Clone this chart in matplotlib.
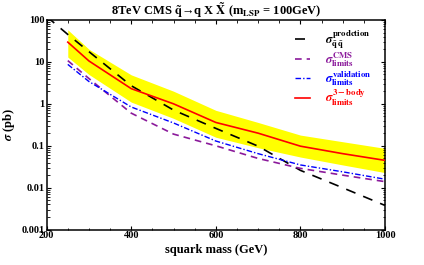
import matplotlib
matplotlib.use("Agg")
import matplotlib.pyplot as plt

plt.rcParams['font.family'] = ['Liberation Serif', 'DejaVu Serif']
plt.rcParams['font.weight'] = 'bold'
plt.rcParams['mathtext.fontset'] = 'stix'

# squark masses (GeV)
mass = [250, 300, 400, 500, 600, 700, 800, 900, 1000]

# production cross section (extends to 200)
mass_prod = [200, 250, 300, 400, 500, 600, 700, 800, 900, 1000]
sigma_prod = [120, 45, 17.5, 2.7, 0.71, 0.26, 0.098, 0.026, 0.01, 0.0038]

sigma_cms = [10.7, 4.0, 0.6, 0.19, 0.1, 0.05, 0.029, 0.02, 0.014]
sigma_valid = [8.7, 3.4, 0.84, 0.35, 0.13, 0.065, 0.035, 0.024, 0.016]
sigma_3body = [29.5, 10.5, 2.3, 1.0, 0.36, 0.2, 0.098, 0.065, 0.045]
band_up = [58, 20, 4.9, 2.0, 0.7, 0.36, 0.18, 0.125, 0.087]
band_lo = [13, 5.0, 1.1, 0.45, 0.16, 0.09, 0.054, 0.035, 0.023]

fig = plt.figure(figsize=(4.24, 2.65), dpi=100)
ax = fig.add_axes([0.110, 0.133, 0.798, 0.792])

ax.fill_between(mass, band_lo, band_up, color='#ffff00', lw=0, zorder=1)
l1, = ax.plot(mass_prod, sigma_prod, color='black', lw=1.2, dashes=(6, 5), zorder=3)
l2, = ax.plot(mass, sigma_cms, color='#8b1a9b', lw=1.2, dashes=(4, 3), zorder=3)
l3, = ax.plot(mass, sigma_valid, color='#0000ff', lw=1.0, dashes=(4, 1.5, 1, 1.5), zorder=3)
l4, = ax.plot(mass, sigma_3body, color='#ff0000', lw=1.2, zorder=3)

ax.set_yscale('log')
ax.set_xlim(200, 1000)
ax.set_ylim(0.001, 100)
ax.set_xticks([200, 400, 600, 800, 1000])
ax.set_xticks(range(200, 1001, 50), minor=True)
ax.set_yticks([0.001, 0.01, 0.1, 1, 10, 100])
ax.set_yticklabels(['0.001', '0.01', '0.1', '1', '10', '100'])
ax.tick_params(which='both', direction='in', top=True, right=True, labelsize=7.5)
ax.tick_params(axis='x', pad=1)
ax.tick_params(axis='y', pad=1.5)
ax.tick_params(which='major', length=3, width=0.8)
ax.tick_params(which='minor', length=1.8, width=0.6)
for s in ax.spines.values():
    s.set_linewidth(1.1)

ax.set_xlabel('squark mass (GeV)', fontsize=9, fontweight='bold', labelpad=3)
ax.set_ylabel(r'$\sigma$ (pb)', fontsize=9, fontweight='bold', labelpad=3)
ax.set_title(r'8TeV CMS $\mathbf{\tilde{q}}$→q X $\mathbf{\tilde{X}}$ (m$_{\mathbf{LSP}}$ = 100GeV)',
             fontsize=9, fontweight='bold', pad=3)

labels = [r'$\sigma^{\mathbf{prodction}}_{\mathbf{\tilde{q}\,\tilde{q}}}$',
          r'$\sigma^{\mathbf{CMS}}_{\mathbf{limits}}$',
          r'$\sigma^{\mathbf{validation}}_{\mathbf{limits}}$',
          r'$\sigma^{\mathbf{3-body}}_{\mathbf{limits}}$']
leg = ax.legend([l1, l2, l3, l4], labels, loc='upper left', frameon=False,
                fontsize=9, handlelength=1.2, handletextpad=1.2, labelspacing=0.0,
                borderpad=0, bbox_to_anchor=(0.715, 0.99))
for txt, c in zip(leg.get_texts(), ['black', '#8b1a9b', '#0000ff', '#ff0000']):
    txt.set_color(c)

fig.savefig('out.png', dpi=100)
